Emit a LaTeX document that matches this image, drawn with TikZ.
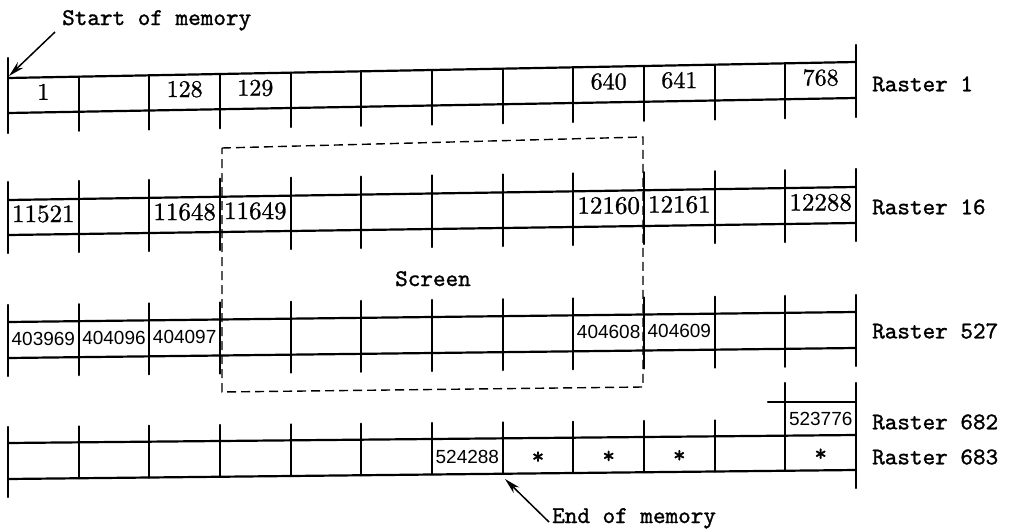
\documentclass[tikz,border=0pt]{standalone}
\usepackage{fontspec}
\newfontfamily\sansnum{Liberation Sans}
\newfontfamily\twfont{lmmono10-regular.otf}[FakeBold=1.2]
\newfontfamily\twnum{lmroman10-regular.otf}[FakeBold=1.0]
\usetikzlibrary{arrows.meta,calc}
\tikzset{
  gridline/.style={line width=2.2pt, line cap=round},
  scr/.style={line width=1.4pt, dash pattern=on 9pt off 5pt},
  lbl/.style={font=\fontsize{24}{26}\selectfont\twfont, inner sep=0pt},
  numA/.style={font=\fontsize{24}{26}\selectfont\twnum, inner sep=0pt},
  numB/.style={font=\fontsize{25}{27}\selectfont\twnum, inner sep=0pt},
  numC/.style={font=\fontsize{19}{21}\selectfont\sansnum, inner sep=0pt},
  starsym/.style={font=\fontsize{24}{26}\selectfont\twfont, inner sep=0pt},
  arr/.style={line width=1.5pt, -{Stealth[length=16pt,width=8pt]}},
}
\begin{document}
\begin{tikzpicture}[x=1pt,y=-1pt]
\useasboundingbox (0,0) rectangle (1015,530);

% ---------- Raster 1 ----------
\draw[gridline] (8,78) -- (856,62);
\draw[gridline] (8,113) -- (856,98);
\foreach \i in {1,...,11} {
  \pgfmathsetmacro\x{8+70.667*\i}
  \pgfmathsetmacro\yt{78-16*\i/12}
  \pgfmathsetmacro\yb{113-15*\i/12+19}
  \draw[gridline] (\x,\yt) -- (\x,\yb);
}
\draw[gridline] (8,58) -- (8,133);
\draw[gridline] (856,45) -- (856,117);
\foreach \i/\t in {0/1,2/128,3/129,8/640,9/641,11/768} {
  \pgfmathsetmacro\cx{8+70.667*(\i+0.5)}
  \pgfmathsetmacro\cy{92.5-15.5*(\i+0.5)/12}
  \node[numA] (ra\i) at (\cx,\cy) {\t};
}

% ---------- Raster 16 ----------
\draw[gridline] (8,200) -- (856,187);
\draw[gridline] (8,235) -- (856,223);
\foreach \i in {0,...,12} {
  \pgfmathsetmacro\x{8+70.667*\i}
  \pgfmathsetmacro\yt{200-13*\i/12-18}
  \pgfmathsetmacro\yb{235-12*\i/12+18}
  \draw[gridline] (\x,\yt) -- (\x,\yb);
}
\foreach \i/\t in {0/11521,2/11648,3/11649,8/12160,9/12161,11/12288} {
  \pgfmathsetmacro\cx{8+70.667*(\i+0.5)}
  \pgfmathsetmacro\cy{214.5-12.5*(\i+0.5)/12}
  \node[numB] (rb\i) at (\cx,\cy) {\t};
}

% ---------- Raster 527 ----------
\draw[gridline] (8,322) -- (856,312);
\draw[gridline] (8,358) -- (856,348);
\foreach \i in {0,...,12} {
  \pgfmathsetmacro\x{8+70.667*\i}
  \pgfmathsetmacro\yt{322-10*\i/12-17}
  \pgfmathsetmacro\yb{358-10*\i/12+18}
  \draw[gridline] (\x,\yt) -- (\x,\yb);
}
\foreach \i/\t in {0/403969,1/404096,2/404097,8/404608,9/404609} {
  \pgfmathsetmacro\cx{8+70.667*(\i+0.5)}
  \pgfmathsetmacro\cy{339-10*(\i+0.5)/12}
  \node[numC] (rc\i) at (\cx,\cy) {\t};
}

% ---------- Raster 682 / 683 ----------
\draw[gridline] (8,443) -- (856,435);
\draw[gridline] (8,479) -- (856,470);
\foreach \i in {1,...,10} {
  \pgfmathsetmacro\x{8+70.667*\i}
  \pgfmathsetmacro\yt{443-8*\i/12-16}
  \pgfmathsetmacro\yb{479-9*\i/12}
  \draw[gridline] (\x,\yt) -- (\x,\yb);
}
\draw[gridline] (8,427) -- (8,497);
\draw[gridline] (785.3,383) -- (785.3,470.8);
\draw[gridline] (856,383) -- (856,488);
\draw[gridline] (768,402) -- (856,402);
\node[numC] (rd6) at ({8+70.667*6.5},457) {524288};
\foreach \i in {7,8,9,11} {
  \pgfmathsetmacro\cx{8+70.667*(\i+0.5)}
  \pgfmathsetmacro\cy{463-8.5*(\i+0.5)/12}
  \node[starsym] (st\i) at (\cx,\cy) {*};
}
\node[numC] (r682) at (820.7,419) {523776};

% ---------- Screen ----------
\draw[scr] (222,148) -- (643,137) -- (643,387) -- (222,392) -- cycle;
\node[lbl, anchor=base] (screen) at (433,286) {Screen};

% ---------- Labels ----------
\node[lbl, anchor=west] (l1) at (872,84) {Raster 1};
\node[lbl, anchor=west] (l16) at (872,207) {Raster 16};
\node[lbl, anchor=west] (l527) at (872,331) {Raster 527};
\node[lbl, anchor=west] (l682) at (872,422) {Raster 682};
\node[lbl, anchor=west] (l683) at (872,457) {Raster 683};

\node[lbl, anchor=base west] (startlbl) at (62,25) {Start of memory};
\coordinate (smem) at (9,76);
\draw[arr] ($(startlbl.base west)+(-7,7)$) -- (smem);

\node[lbl, anchor=base west] (endlbl) at (552,523) {End of memory};
\coordinate (emem) at (505,479);
\draw[arr] ($(endlbl.base west)+(-3,-1)$) -- (emem);
\end{tikzpicture}
\end{document}
